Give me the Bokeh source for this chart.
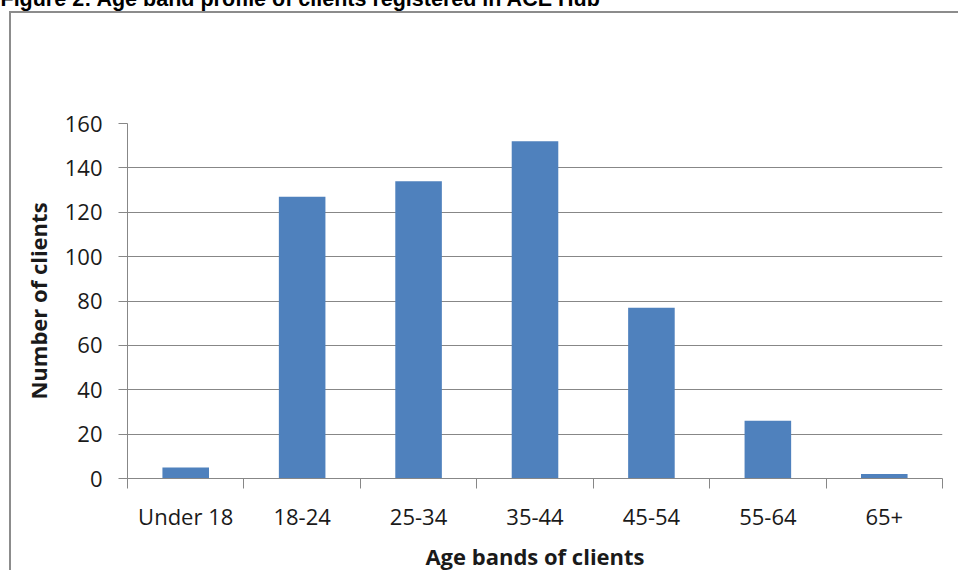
from bokeh.plotting import figure
from bokeh.models import FixedTicker, Range1d
from bokeh.embed import file_html
from bokeh.resources import INLINE

# Client counts per age band
age_bands = ["Under 18", "18-24", "25-34", "35-44", "45-54", "55-64", "65+"]
clients = [5, 127, 134, 152, 77, 26, 2]
y_ticks = [0, 20, 40, 60, 80, 100, 120, 140, 160]

title_text = "Figure 2: Age band profile of clients registered in ACE Hub"
x_title = "Age bands of clients"
y_title = "Number of clients"

GRID = "#878787"
BOX = "#8c8c8c"
BAR = "#4F81BD"
TEXT = "#1a1a1a"
FONT = "Open Sans"

SHIFT = 135  # page is pulled up so the caption sits at the top edge

n = len(age_bands)
centers = [i + 0.5 for i in range(n)]

p = figure(
    frame_width=815, frame_height=355,
    x_range=Range1d(0, n), y_range=Range1d(0, 160),
    output_backend="svg", toolbar_location=None,
    min_border_left=127, min_border_right=16,
    min_border_top=123 + SHIFT, min_border_bottom=88,
)
p.outline_line_color = None
p.background_fill_color = "white"
p.border_fill_color = None

# outer chart box drawn as the element's background (left and top rules)
p.styles = {
    "margin-top": f"-{SHIFT}px",
    "background": (
        f"linear-gradient({BOX},{BOX}) 9px {11 + SHIFT}px / 2px 2000px no-repeat, "
        f"linear-gradient({BOX},{BOX}) 9px {11 + SHIFT}px / 2000px 2px no-repeat, "
        "#ffffff"
    ),
}

p.vbar(x=centers, top=clients, width=0.4, fill_color=BAR, line_color=None)

# caption
p.title.text = title_text
p.title.align = "left"
p.title.offset = -127
p.title.standoff = 226
p.title.text_font = "Liberation Sans"
p.title.text_font_style = "bold"
p.title.text_font_size = "21.5px"
p.title.text_color = "#000000"

# y axis
p.yaxis.ticker = FixedTicker(ticks=y_ticks, minor_ticks=[])
p.yaxis.axis_line_color = GRID
p.yaxis.major_tick_line_color = GRID
p.yaxis.major_tick_out = 9
p.yaxis.major_tick_in = 0
p.yaxis.minor_tick_line_color = None
p.yaxis.major_label_standoff = 16
p.yaxis.major_label_text_font = FONT
p.yaxis.major_label_text_font_size = "22px"
p.yaxis.major_label_text_color = TEXT
p.yaxis.axis_label = y_title
p.yaxis.axis_label_text_font = FONT
p.yaxis.axis_label_text_font_style = "bold"
p.yaxis.axis_label_text_font_size = "22px"
p.yaxis.axis_label_text_color = TEXT
p.yaxis.axis_label_standoff = 9

# x axis: labels at band centres, tick marks at band boundaries
p.xaxis.ticker = FixedTicker(ticks=centers, minor_ticks=list(range(n + 1)))
p.xaxis.major_label_overrides = {c: lab for c, lab in zip(centers, age_bands)}
p.xaxis.axis_line_color = GRID
p.xaxis.major_tick_line_color = None
p.xaxis.major_tick_out = 0
p.xaxis.major_tick_in = 0
p.xaxis.minor_tick_line_color = GRID
p.xaxis.minor_tick_out = 10
p.xaxis.minor_tick_in = 0
p.xaxis.major_label_standoff = 12
p.xaxis.major_label_text_font = FONT
p.xaxis.major_label_text_font_size = "22px"
p.xaxis.major_label_text_color = TEXT
p.xaxis.axis_label = x_title
p.xaxis.axis_label_text_font = FONT
p.xaxis.axis_label_text_font_style = "bold"
p.xaxis.axis_label_text_font_size = "22px"
p.xaxis.axis_label_text_color = TEXT
p.xaxis.axis_label_standoff = 7

p.xgrid.grid_line_color = None
p.ygrid.ticker = FixedTicker(ticks=y_ticks)
p.ygrid.grid_line_color = GRID
p.ygrid.grid_line_width = 1

open("out.html", "w").write(file_html(p, INLINE))
